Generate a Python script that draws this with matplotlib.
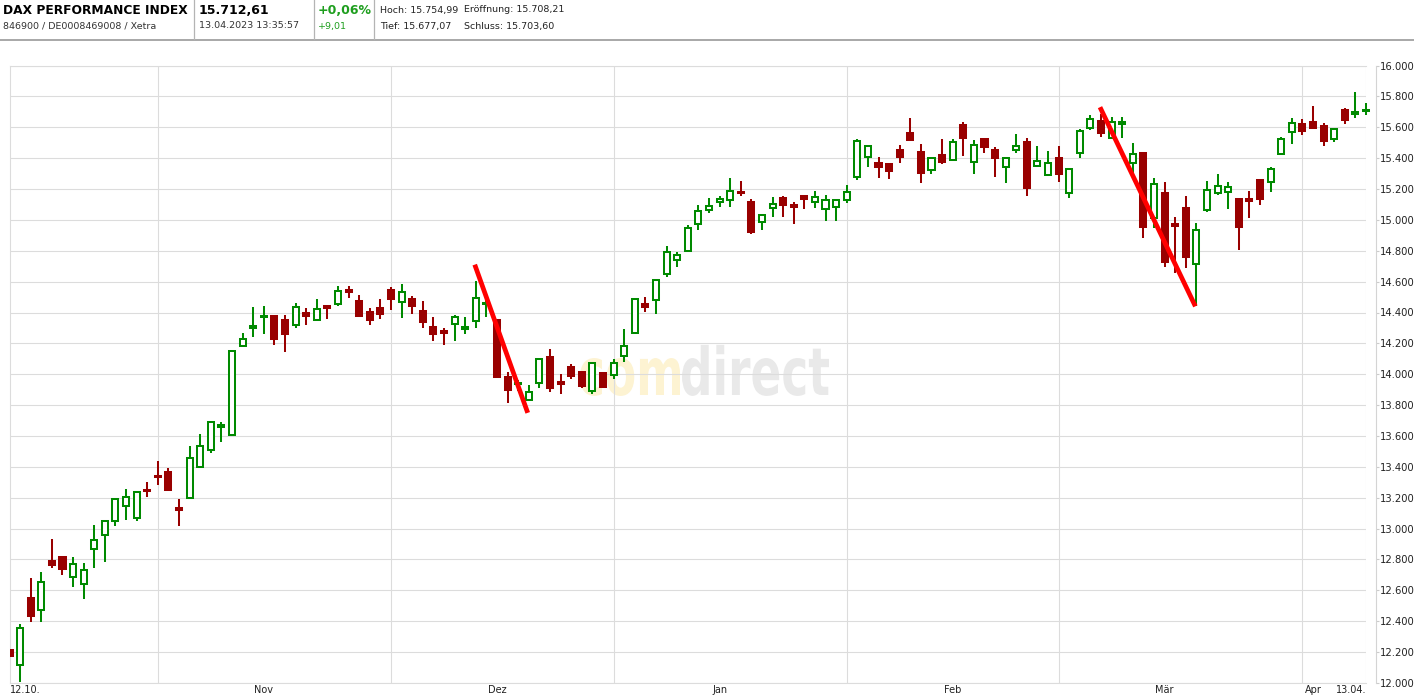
import numpy as np
import pandas as pd
import matplotlib
matplotlib.use('Agg')
import matplotlib.pyplot as plt
from matplotlib.patches import Rectangle, PathPatch
from matplotlib.textpath import TextPath
from matplotlib.font_manager import FontProperties
from matplotlib.transforms import Affine2D
from matplotlib.lines import Line2D

# trading days on Xetra, 12.10.2022 - 13.04.2023
holidays = ['2022-12-26', '2023-04-07', '2023-04-10']
days = pd.bdate_range('2022-10-12', '2023-04-13')
days = days[~days.isin(pd.to_datetime(holidays))]

opens = [12215, 12116, 12550, 12471, 12789, 12819, 12684, 12639, 12871, 12961,
         13051, 13148, 13071, 13251, 13344, 13370, 13131, 13198, 13399, 13509,
         13657, 13606, 14181, 14297, 14368, 14375, 14349, 14317, 14397, 14349,
         14442, 14453, 14545, 14474, 14403, 14429, 14545, 14465, 14486, 14407,
         14305, 14280, 14323, 14295, 14342, 14452, 14351, 13983, 13935, 13832,
         13942, 14112, 13951, 14047, 14015, 13890, 14006, 13994, 14116, 14265,
         14455, 14481, 14649, 14740, 14800, 14973, 15064, 15116, 15131, 15183,
         15118, 14986, 15077, 15144, 15098, 15152, 15116, 15070, 15086, 15131,
         15276, 15406, 15369, 15360, 15453, 15564, 15440, 15321, 15421, 15391,
         15616, 15373, 15527, 15453, 15341, 15451, 15505, 15347, 15293, 15401,
         15172, 15432, 15594, 15641, 15529, 15622, 15367, 15434, 15015, 15174,
         14974, 15077, 14712, 15062, 15172, 15179, 15133, 15136, 15259, 15244,
         15425, 15568, 15620, 15637, 15611, 15524, 15711, 15689, 15708.21]
highs = [12305, 12385, 12679, 12718, 12931, 12819, 12819, 12776, 13021, 13051,
         13200, 13258, 13238, 13305, 13441, 13395, 13195, 13535, 13614, 13690,
         13692, 14155, 14267, 14435, 14442, 14381, 14384, 14459, 14429, 14487,
         14446, 14571, 14571, 14513, 14429, 14487, 14567, 14584, 14505, 14473,
         14370, 14299, 14383, 14370, 14602, 14495, 14351, 14015, 13960, 13929,
         14097, 14163, 14000, 14069, 14022, 14071, 14006, 14099, 14293, 14496,
         14502, 14612, 14833, 14794, 14969, 15098, 15140, 15155, 15273, 15254,
         15135, 15040, 15150, 15152, 15118, 15159, 15189, 15163, 15135, 15228,
         15525, 15477, 15408, 15360, 15486, 15661, 15490, 15408, 15525, 15525,
         15635, 15520, 15533, 15473, 15408, 15557, 15531, 15479, 15447, 15479,
         15328, 15590, 15680, 15686, 15667, 15667, 15498, 15434, 15272, 15246,
         15019, 15155, 14980, 15252, 15295, 15246, 15133, 15187, 15267, 15343,
         15535, 15658, 15656, 15737, 15626, 15598, 15724, 15828, 15754.99]
lows = [12108, 12004, 12398, 12398, 12746, 12699, 12624, 12546, 12746, 12785,
        13017, 13056, 13049, 13208, 13281, 13249, 13015, 13196, 13390, 13487,
        13558, 13597, 14175, 14244, 14263, 14192, 14147, 14297, 14321, 14343,
        14360, 14444, 14496, 14373, 14321, 14360, 14418, 14366, 14391, 14301,
        14215, 14191, 14217, 14262, 14301, 14372, 13978, 13817, 13890, 13832,
        13910, 13888, 13875, 13966, 13914, 13869, 13920, 13972, 14082, 14265,
        14401, 14388, 14628, 14692, 14796, 14932, 15042, 15081, 15081, 15152,
        14906, 14936, 15021, 15021, 14971, 15068, 15077, 14993, 14993, 15109,
        15261, 15345, 15274, 15267, 15371, 15514, 15241, 15300, 15365, 15384,
        15414, 15300, 15434, 15280, 15241, 15432, 15157, 15347, 15287, 15248,
        15144, 15404, 15585, 15540, 15529, 15533, 15302, 14885, 14950, 14697,
        14658, 14688, 14442, 15054, 15162, 15073, 14807, 15015, 15099, 15183,
        15425, 15494, 15548, 15596, 15478, 15505, 15624, 15661, 15677.07]
closes = [12172, 12355, 12437, 12652, 12765, 12740, 12768, 12729, 12929, 13051,
          13193, 13206, 13238, 13241, 13333, 13249, 13118, 13458, 13535, 13690,
          13672, 14149, 14226, 14310, 14375, 14231, 14263, 14433, 14379, 14420,
          14427, 14537, 14534, 14379, 14353, 14392, 14489, 14530, 14441, 14340,
          14258, 14265, 14368, 14303, 14497, 14462, 13983, 13895, 13942, 13884,
          14097, 13914, 13940, 13991, 13927, 14071, 13920, 14071, 14181, 14490,
          14433, 14612, 14792, 14772, 14947, 15057, 15090, 15135, 15187, 15172,
          14919, 15034, 15105, 15094, 15081, 15133, 15148, 15129, 15131, 15181,
          15510, 15477, 15345, 15319, 15410, 15518, 15306, 15401, 15378, 15503,
          15533, 15484, 15475, 15399, 15401, 15477, 15209, 15380, 15367, 15300,
          15328, 15575, 15652, 15561, 15632, 15632, 15425, 14956, 15231, 14730,
          14963, 14762, 14933, 15192, 15218, 15211, 14956, 15125, 15138, 15328,
          15522, 15626, 15576, 15596, 15511, 15589, 15648, 15702, 15712.61]

# hand-drawn trend lines (x in candle index units)
trend1_x = [43.9, 48.9]
trend1_y = [14710, 13750]
trend2_x = [102.9, 111.9]
trend2_y = [15730, 14440]

month_names = {1: 'Jan', 2: 'Feb', 3: 'Mär', 4: 'Apr', 11: 'Nov', 12: 'Dez'}

UP = '#008a00'
DOWN = '#990000'
GRID = '#dcdcdc'

W, H = 1414, 700
fig = plt.figure(figsize=(W / 100, H / 100), dpi=100)
ax = fig.add_axes([9.5 / W, (H - 683) / H, (1366 - 9.5) / W, (683 - 65.5) / H])

n = len(days)
last = n - 1

# watermark
fp = FontProperties(family='DejaVu Sans', weight='bold')
tp_com = TextPath((0, 0), 'com', size=1, prop=fp)
tp_dir = TextPath((0, 0), 'direct', size=1, prop=fp)
sy = 66
sx = 147 / tp_dir.get_extents().width
base_y = H - 395
x_dir = 682
w_com = tp_com.get_extents().x1 * sx
ax.add_patch(PathPatch(tp_com, transform=Affine2D().scale(sx, sy).translate(x_dir - w_com - 2, base_y),
                       facecolor='#fdf3d2', edgecolor='none', zorder=0.5))
ax.add_patch(PathPatch(tp_dir, transform=Affine2D().scale(sx, sy).translate(x_dir - tp_dir.get_extents().x0 * sx, base_y),
                       facecolor='#e9e9e9', edgecolor='none', zorder=0.5))

# candles
bw = 0.57
for i in range(n):
    o, h, l, c = opens[i], highs[i], lows[i], closes[i]
    up = c >= o
    col = UP if up else DOWN
    clip = i != last
    ax.vlines(i, l, h, color=col, lw=1.45, zorder=2, clip_on=clip)
    bottom = min(o, c)
    height = max(abs(c - o), 6)
    ax.add_patch(Rectangle((i - bw / 2, bottom), bw, height,
                           facecolor='white' if up else DOWN, edgecolor=col,
                           lw=1.45, zorder=3, clip_on=clip))

ax.plot(trend1_x, trend1_y, color='#ff0000', lw=3.4, solid_capstyle='butt', zorder=5)
ax.plot(trend2_x, trend2_y, color='#ff0000', lw=3.4, solid_capstyle='butt', zorder=5)

ax.set_xlim(0, last)
ax.set_ylim(12000, 16000)

# x axis: month gridlines at month starts, labels mid-month
month_starts = [i for i in range(1, n) if days[i].month != days[i - 1].month]
label_pos, label_txt = [0], [days[0].strftime('%d.%m.')]
for s in month_starts:
    m = days[s].month
    idx = [i for i in range(s, n) if days[i].month == m and days[i].day >= 15]
    label_pos.append(idx[0] if idx else s + 1)
    label_txt.append(month_names[m])
label_pos.append(last)
label_txt.append(days[last].strftime('%d.%m.'))

ax.set_xticks(month_starts, minor=True)
ax.set_xticks(label_pos, label_txt)
ax.tick_params(axis='x', which='both', length=0, pad=1.5, labelsize=7, labelcolor='#222222')
tl = ax.get_xticklabels()
tl[0].set_ha('left')
tl[-1].set_ha('right')
ax.grid(which='minor', axis='x', color=GRID, lw=0.8, zorder=1)
ax.axvline(last, color=GRID, lw=0.8, zorder=1)

# y axis on the right
yt = list(range(12000, 16001, 200))
ax.set_yticks(yt, [f'{v:,}'.replace(',', '.') for v in yt])
ax.yaxis.tick_right()
ax.tick_params(axis='y', length=2, pad=0.5, color='#cccccc', labelsize=7.2, labelcolor='#222222')
ax.grid(which='major', axis='y', color=GRID, lw=0.8, zorder=1)
ax.set_axisbelow(True)

for s in ['top', 'bottom', 'left']:
    ax.spines[s].set_color(GRID)
    ax.spines[s].set_linewidth(0.8)
ax.spines['right'].set_position(('outward', 7.2))
ax.spines['right'].set_color('#d4d4d4')
ax.spines['right'].set_linewidth(0.8)

# header
def fx(px):
    return px / W

def fy(py):
    return 1 - py / H

fig.add_artist(Line2D([0, 1], [fy(40), fy(40)], transform=fig.transFigure, color='#9a9a9a', lw=1.2))
for xs in [194, 314, 374]:
    fig.add_artist(Line2D([fx(xs), fx(xs)], [fy(0), fy(39)], transform=fig.transFigure, color='#b4b4b4', lw=0.9))

fig.text(fx(3), fy(10), 'DAX PERFORMANCE INDEX', fontsize=8.8, fontweight='bold', va='center', color='#000000')
fig.text(fx(3), fy(26), '846900 / DE0008469008 / Xetra', fontsize=6.8, va='center', color='#333333')
fig.text(fx(199), fy(10), '15.712,61', fontsize=9, fontweight='bold', va='center', color='#000000')
fig.text(fx(199), fy(26), '13.04.2023 13:35:57', fontsize=6.8, va='center', color='#333333')
fig.text(fx(318), fy(10), '+0,06%', fontsize=9, fontweight='bold', va='center', color='#1e9e1e')
fig.text(fx(318), fy(26), '+9,01', fontsize=6.8, va='center', color='#1e9e1e')
fig.text(fx(380), fy(10), 'Hoch: 15.754,99', fontsize=6.8, va='center', color='#222222')
fig.text(fx(464), fy(10), 'Eröffnung: 15.708,21', fontsize=6.8, va='center', color='#222222')
fig.text(fx(380), fy(26), 'Tief: 15.677,07', fontsize=6.8, va='center', color='#222222')
fig.text(fx(464), fy(26), 'Schluss: 15.703,60', fontsize=6.8, va='center', color='#222222')

fig.savefig('out.png', dpi=100, facecolor='white')
